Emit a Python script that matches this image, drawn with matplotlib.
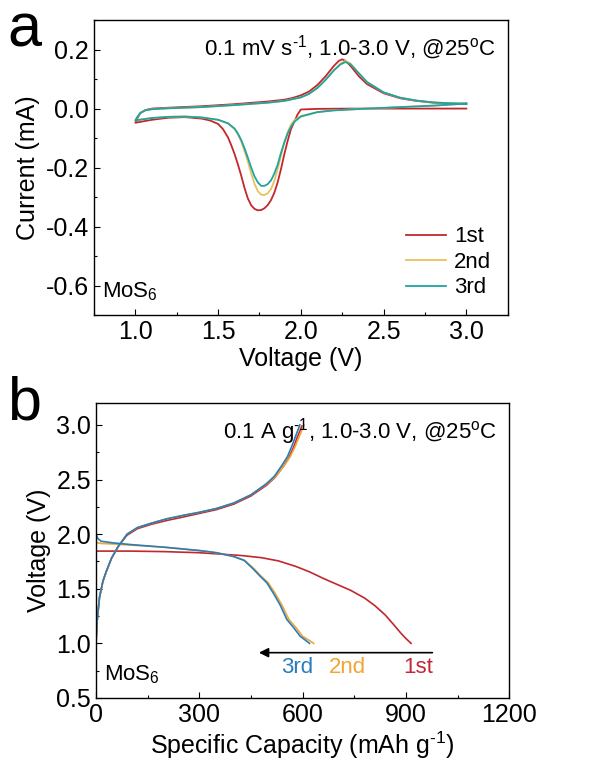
import numpy as np
import matplotlib
matplotlib.use("Agg")
import matplotlib.pyplot as plt
from matplotlib.ticker import MultipleLocator

plt.rcParams['font.family'] = ['Liberation Sans', 'DejaVu Sans']
plt.rcParams['mathtext.fontset'] = 'custom'
plt.rcParams['mathtext.rm'] = 'Liberation Sans'
plt.rcParams['mathtext.default'] = 'regular'
plt.rcParams['axes.unicode_minus'] = False

# CV curves (a): full loop 3.0 V -> 1.0 V -> 3.0 V
v1 = [3.0, 2.6, 2.3, 2.1, 2.0, 1.98, 1.96, 1.94, 1.92, 1.90, 1.88, 1.86, 1.84, 1.82, 1.80,
      1.78, 1.76, 1.74, 1.72, 1.70, 1.68, 1.66, 1.64, 1.62, 1.60, 1.58, 1.56, 1.53, 1.50,
      1.45, 1.40, 1.30, 1.20, 1.10, 1.05, 1.0,
      1.01, 1.03, 1.06, 1.1, 1.2, 1.4, 1.6, 1.8, 1.9, 1.95, 2.0, 2.05, 2.1, 2.15, 2.2,
      2.23, 2.25, 2.27, 2.3, 2.35, 2.4, 2.5, 2.6, 2.7, 2.8, 2.9, 3.0]
i1 = [0.0, 0.0, 0.0, -0.001, -0.003, -0.02, -0.045, -0.07, -0.11, -0.155, -0.205, -0.25,
      -0.285, -0.31, -0.327, -0.338, -0.344, -0.345, -0.340, -0.328, -0.305, -0.27, -0.228,
      -0.19, -0.155, -0.125, -0.098, -0.07, -0.052, -0.04, -0.034, -0.029, -0.031, -0.038,
      -0.043, -0.048,
      -0.035, -0.015, -0.005, 0.0, 0.003, 0.008, 0.015, 0.024, 0.03, 0.036, 0.045, 0.058,
      0.08, 0.11, 0.145, 0.162, 0.167, 0.162, 0.145, 0.11, 0.083, 0.052, 0.035, 0.026,
      0.02, 0.017, 0.015]

v2 = [3.0, 2.8, 2.6, 2.4, 2.2, 2.1, 2.0, 1.96, 1.94, 1.92, 1.90, 1.88, 1.86, 1.84, 1.82,
      1.80, 1.78, 1.76, 1.74, 1.72, 1.70, 1.68, 1.66, 1.64, 1.62, 1.60, 1.56, 1.5, 1.4,
      1.3, 1.2, 1.1, 1.0,
      1.01, 1.03, 1.06, 1.1, 1.2, 1.4, 1.6, 1.8, 1.9, 2.0, 2.05, 2.1, 2.15, 2.2, 2.24,
      2.27, 2.3, 2.35, 2.4, 2.5, 2.6, 2.7, 2.8, 2.9, 3.0]
i2 = [0.017, 0.01, 0.005, 0.0, -0.006, -0.012, -0.025, -0.04, -0.055, -0.08, -0.115,
      -0.16, -0.205, -0.245, -0.272, -0.287, -0.293, -0.292, -0.28, -0.255, -0.22, -0.18,
      -0.145, -0.112, -0.088, -0.07, -0.05, -0.038, -0.03, -0.027, -0.028, -0.032, -0.04,
      -0.03, -0.015, -0.006, -0.002, 0.001, 0.005, 0.012, 0.02, 0.026, 0.038, 0.05, 0.07,
      0.098, 0.13, 0.153, 0.162, 0.153, 0.12, 0.09, 0.055, 0.037, 0.027, 0.021, 0.018, 0.017]

v3 = v2
i3 = [0.017, 0.01, 0.005, 0.0, -0.006, -0.012, -0.027, -0.045, -0.062, -0.085, -0.115,
      -0.15, -0.19, -0.22, -0.243, -0.256, -0.262, -0.262, -0.25, -0.23, -0.2, -0.167,
      -0.135, -0.107, -0.085, -0.068, -0.05, -0.038, -0.03, -0.027, -0.028, -0.032, -0.04,
      -0.03, -0.015, -0.006, -0.002, 0.001, 0.005, 0.012, 0.02, 0.026, 0.038, 0.05, 0.07,
      0.098, 0.13, 0.15, 0.158, 0.15, 0.12, 0.09, 0.055, 0.037, 0.027, 0.021, 0.018, 0.017]

# Charge / discharge (b)
cap_ch1 = [0, 3, 10, 20, 30, 45, 65, 90, 120, 160, 205, 250, 300, 350, 400, 450, 496, 520,
           544, 560, 573, 585, 598]
v_ch1 = [1.0, 1.2, 1.42, 1.57, 1.66, 1.78, 1.89, 1.99, 2.05, 2.09, 2.125, 2.155, 2.19,
         2.225, 2.275, 2.35, 2.45, 2.52, 2.62, 2.7, 2.79, 2.89, 2.99]
cap_ch2 = [0, 3, 10, 20, 30, 45, 65, 90, 120, 160, 205, 250, 300, 350, 400, 450, 496, 522,
           547, 564, 578, 591, 604]
v_ch2 = [1.0, 1.2, 1.42, 1.57, 1.66, 1.78, 1.89, 2.0, 2.06, 2.1, 2.14, 2.17, 2.2, 2.235,
         2.285, 2.36, 2.46, 2.53, 2.63, 2.71, 2.8, 2.9, 3.0]
cap_ch3 = [0, 3, 10, 20, 30, 45, 65, 90, 120, 160, 205, 250, 300, 350, 400, 450, 494, 518,
           540, 556, 568, 580, 592]
v_ch3 = [1.0, 1.2, 1.42, 1.57, 1.66, 1.78, 1.89, 2.0, 2.06, 2.1, 2.14, 2.17, 2.2, 2.235,
         2.285, 2.36, 2.46, 2.53, 2.63, 2.71, 2.8, 2.9, 3.0]

cap_dis1 = [0, 100, 200, 300, 350, 420, 480, 530, 580, 620, 660, 700, 740, 780, 810, 840,
            865, 885, 900, 915]
v_dis1 = [1.845, 1.845, 1.84, 1.83, 1.82, 1.805, 1.785, 1.755, 1.705, 1.655, 1.595, 1.54,
          1.485, 1.415, 1.345, 1.26, 1.17, 1.095, 1.045, 1.0]
cap_dis2 = [0, 5, 15, 50, 100, 200, 300, 350, 400, 432, 460, 478, 500, 520, 540, 560, 582,
            600, 618, 632]
v_dis2 = [1.93, 1.92, 1.915, 1.91, 1.9, 1.88, 1.85, 1.83, 1.795, 1.76, 1.68, 1.62, 1.555,
          1.46, 1.35, 1.22, 1.14, 1.065, 1.03, 1.0]
cap_dis3 = [0, 5, 15, 50, 100, 200, 300, 350, 400, 430, 457, 475, 496, 515, 535, 554, 575,
            593, 608, 620]
v_dis3 = [2.0, 1.96, 1.935, 1.92, 1.905, 1.88, 1.85, 1.83, 1.795, 1.76, 1.68, 1.62, 1.555,
          1.46, 1.35, 1.22, 1.14, 1.065, 1.03, 1.0]

labels = ['1st', '2nd', '3rd']
cols_a = ['#C3272B', '#E8C25A', '#1FA3A3']
cols_b = ['#C0282D', '#F0A535', '#2A7DB8']

fig = plt.figure(figsize=(6.04, 7.62), dpi=100)

def style(ax):
    ax.tick_params(which='both', direction='in', labelsize=18, width=0.8)
    ax.tick_params(which='major', length=4)
    ax.tick_params(which='minor', length=2.5)
    for s in ax.spines.values():
        s.set_linewidth(1.0)

# ---- panel a
ax1 = fig.add_axes([0.1556, 0.5866, 0.685, 0.387])
ax1.plot(v1, i1, color=cols_a[0], lw=1.3, label=labels[0])
ax1.plot(v2, i2, color=cols_a[1], lw=1.3, label=labels[1])
ax1.plot(v3, i3, color=cols_a[2], lw=1.3, label=labels[2])
ax1.set_xlim(0.75, 3.25)
ax1.set_ylim(-0.7, 0.3)
ax1.xaxis.set_major_locator(MultipleLocator(0.5))
ax1.xaxis.set_minor_locator(MultipleLocator(0.25))
ax1.yaxis.set_minor_locator(MultipleLocator(0.1))
ax1.set_yticks([-0.6, -0.4, -0.2, 0.0, 0.2])
style(ax1)
ax1.set_xlabel('Voltage (V)', fontsize=18, labelpad=2)
ax1.set_ylabel('Current (mA)', fontsize=18, labelpad=4)
ax1.text(0.97, 0.955, r'0.1 mV s$^{\text{-1}}$, 1.0-3.0 V, @25$^{o}$C', transform=ax1.transAxes,
         ha='right', va='top', fontsize=16)
ax1.text(0.02, 0.04, 'MoS$_6$', transform=ax1.transAxes, ha='left', va='bottom', fontsize=16)
ax1.legend(loc='lower right', frameon=False, fontsize=16, handlelength=1.8,
           handletextpad=0.35, labelspacing=0.2, borderaxespad=0.35)
fig.text(0.012, 0.997, 'a', fontsize=44, ha='left', va='top')

# ---- panel b
ax2 = fig.add_axes([0.159, 0.084, 0.684, 0.387])
ax2.plot(cap_dis1, v_dis1, color=cols_b[0], lw=1.2)
ax2.plot(cap_ch1, v_ch1, color=cols_b[0], lw=1.2)
ax2.plot(cap_dis2, v_dis2, color=cols_b[1], lw=1.2)
ax2.plot(cap_ch2, v_ch2, color=cols_b[1], lw=1.2)
ax2.plot(cap_dis3, v_dis3, color=cols_b[2], lw=1.2)
ax2.plot(cap_ch3, v_ch3, color=cols_b[2], lw=1.2)
ax2.set_xlim(0, 1200)
ax2.set_ylim(0.5, 3.2)
ax2.xaxis.set_major_locator(MultipleLocator(300))
ax2.xaxis.set_minor_locator(MultipleLocator(150))
ax2.yaxis.set_major_locator(MultipleLocator(0.5))
ax2.yaxis.set_minor_locator(MultipleLocator(0.25))
style(ax2)
ax2.set_xlabel(r'Specific Capacity (mAh g$^{\text{-1}}$)', fontsize=18, labelpad=2)
ax2.set_ylabel('Voltage (V)', fontsize=18, labelpad=4)
ax2.text(0.97, 0.955, r'0.1 A g$^{\text{-1}}$, 1.0-3.0 V, @25$^{o}$C', transform=ax2.transAxes,
         ha='right', va='top', fontsize=16)
ax2.text(0.02, 0.04, 'MoS$_6$', transform=ax2.transAxes, ha='left', va='bottom', fontsize=16)
ax2.annotate('', xy=(465, 0.915), xytext=(985, 0.915),
             arrowprops=dict(arrowstyle='-|>', color='black', lw=1.2, mutation_scale=14))
for lab, x, c in zip(['3rd', '2nd', '1st'], [585, 730, 935], ['#2A7DB8', '#F0A535', '#C0283A']):
    ax2.text(x, 0.775, lab, color=c, fontsize=16, ha='center', va='center')
fig.text(0.012, 0.507, 'b', fontsize=44, ha='left', va='top')

fig.savefig('out.png', dpi=100)
